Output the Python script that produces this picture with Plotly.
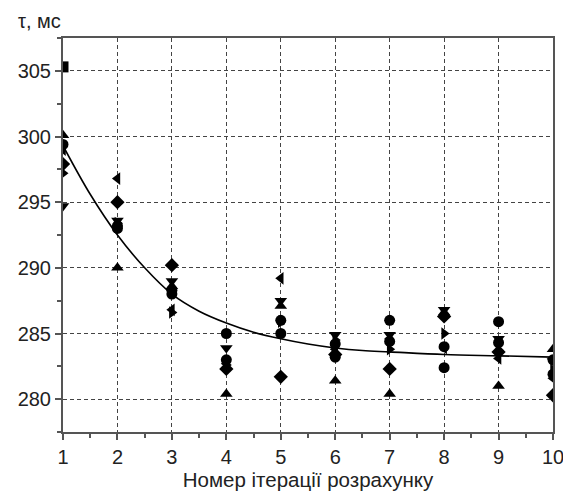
import plotly.graph_objects as go

iterations = [1, 2, 3, 4, 5, 6, 7, 8, 9, 10]

series_a = [305.3, 293.0, 288.3, 283.0, 286.0, 284.2, 284.4, 284.0, 284.3, 281.9]
series_circle = [299.4, 293.2, 288.0, 285.0, 285.0, 283.2, 286.0, 282.4, 285.9, 283.0]
series_tri_up = [300.1, 290.0, 288.6, 280.4, 287.1, 281.4, 280.4, 286.6, 281.0, 283.8]
series_tri_down = [294.7, 293.6, 289.0, 283.9, 287.5, 284.9, 284.9, 286.8, 284.6, 282.9]
series_diamond = [297.9, 295.0, 290.2, 282.3, 281.7, 283.4, 282.3, 286.3, 283.6, 280.3]
series_tri_left = [299.0, 296.8, 286.8, 282.7, 289.2, 283.8, 284.6, 283.9, 283.1, 281.6]
series_tri_right = [297.2, 293.4, 286.6, 282.6, 285.9, 284.5, 283.8, 285.0, 283.7, 282.2]

fit_x = [1, 1.5, 2, 2.5, 3, 3.5, 4, 4.5, 5, 5.5, 6, 6.5, 7, 8, 9, 10]
fit_y = [299.3, 295.6, 292.5, 290.0, 288.0, 286.7, 285.8, 285.1, 284.6, 284.2,
         283.9, 283.7, 283.6, 283.4, 283.3, 283.2]

x_ticks = iterations
y_ticks = [280, 285, 290, 295, 300, 305]

fig = go.Figure()

series = [
    (series_a, ["square"] + ["circle"] * 9),
    (series_circle, "circle"),
    (series_tri_up, "triangle-up"),
    (series_tri_down, "triangle-down"),
    (series_diamond, "diamond"),
    (series_tri_left, "triangle-left"),
    (series_tri_right, "triangle-right"),
]
for vals, sym in series:
    fig.add_trace(go.Scatter(
        x=iterations, y=vals, mode="markers",
        marker=dict(symbol=sym, size=11, color="black", line=dict(width=0)),
        showlegend=False, cliponaxis=True,
    ))

fig.add_trace(go.Scatter(
    x=fit_x, y=fit_y, mode="lines", line=dict(color="black", width=1.6, shape="spline"),
    showlegend=False,
))

fam = "Liberation Sans, Arial, sans-serif"
txt = "#222"

fig.update_layout(
    width=563, height=486,
    margin=dict(l=55, r=18, t=30, b=62),
    paper_bgcolor="white", plot_bgcolor="white",
    font=dict(family=fam, color=txt),
    xaxis=dict(
        range=[1, 10], tickvals=x_ticks, ticktext=[str(v) for v in x_ticks],
        showgrid=True, gridcolor="#444", griddash="4px,3px", gridwidth=1,
        showline=True, linecolor="#555", linewidth=2, mirror=True,
        ticks="outside", ticklen=6, tickcolor="#555", tickwidth=1.5,
        minor=dict(dtick=0.5, ticks="outside", ticklen=4, tickcolor="#555", showgrid=False),
        tickfont=dict(size=20, family=fam, color=txt),
        title=dict(text="Номер ітерації розрахунку", font=dict(size=20.5, family=fam, color=txt), standoff=3),
        zeroline=False, automargin=False,
    ),
    yaxis=dict(
        range=[277.5, 307.5], tickvals=y_ticks, ticktext=[str(v) for v in y_ticks],
        showgrid=True, gridcolor="#444", griddash="4px,3px", gridwidth=1,
        showline=True, linecolor="#555", linewidth=2, mirror=True,
        ticks="outside", ticklen=6, tickcolor="#555", tickwidth=1.5,
        minor=dict(tick0=277.5, dtick=2.5, ticks="outside", ticklen=4, tickcolor="#555", showgrid=False),
        tickfont=dict(size=20, family=fam, color=txt),
        zeroline=False, automargin=False,
    ),
    annotations=[dict(
        text="τ, мс", xref="paper", yref="paper", x=-0.094, y=1.0, yshift=29,
        xanchor="left", yanchor="top", showarrow=False, borderpad=0,
        font=dict(size=20, family=fam, color=txt),
    )],
)

fig.write_html("out.html")
